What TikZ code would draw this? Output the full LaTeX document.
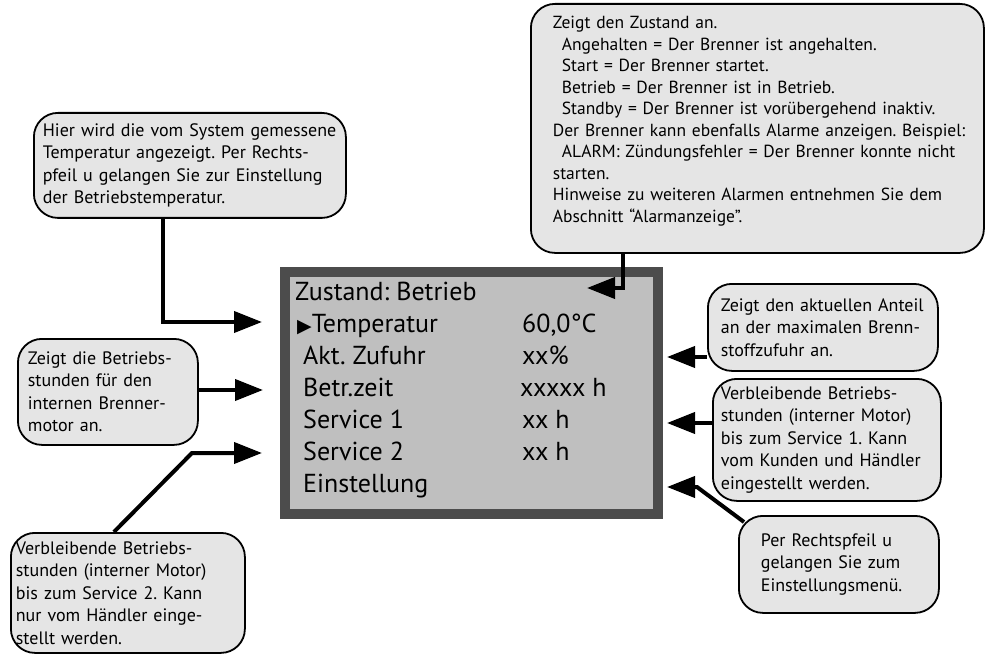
\documentclass[tikz,border=0pt]{standalone}
\usepackage{fontspec}
\setmainfont{PT Sans}
\newfontfamily\symfont{DejaVu Sans}
\usetikzlibrary{arrows.meta}
\frenchspacing

\definecolor{notefill}{gray}{0.9}
\definecolor{lcdfill}{gray}{0.75}
\definecolor{lcdframe}{gray}{0.3}

\begin{document}
\begin{tikzpicture}[x=1pt, y=-1pt,
    note/.style={draw, line width=1.8pt, rounded corners=24pt, fill=notefill, anchor=north west,
                 align=left, inner ysep=0pt, font=\fontsize{18}{22.5}\selectfont},
    lcdtext/.style={anchor=base west, inner sep=0pt, font=\fontsize{26}{30}\selectfont},
    pointer/.style={line width=4pt, -{Triangle[length=28pt,width=21pt]}}]

    \useasboundingbox (0,0) rectangle (985,655);

    \node[draw=lcdframe, line width=10pt, fill=lcdfill, anchor=north west, inner sep=0pt,
          minimum width=373pt, minimum height=242pt] (lcd) at (280,267) {};

    \node[lcdtext] (rState) at (295,300) {Zustand: Betrieb};
    \node[lcdtext] (rTemp)  at (297,332) {{\symfont\fontsize{19}{19}\selectfont ▶}Temperatur};
    \node[lcdtext] (rFeed)  at (303,364) {Akt. Zufuhr};
    \node[lcdtext] (rHours) at (303,396) {Betr.zeit};
    \node[lcdtext] (rSvc1)  at (303,428) {Service 1};
    \node[lcdtext] (rSvc2)  at (303,460) {Service 2};
    \node[lcdtext] (rSet)   at (303,492) {Einstellung};

    \node[lcdtext] (vTemp)  at (522,332) {60,0°C};
    \node[lcdtext] (vFeed)  at (522,364) {xx\%};
    \node[lcdtext] (vHours) at (520,396) {xxxxx h};
    \node[lcdtext] (vSvc1)  at (522,428) {xx h};
    \node[lcdtext] (vSvc2)  at (522,460) {xx h};

    \node[note, inner xsep=9pt, text width=294pt, minimum height=105pt] (tempnote) at (33,112)
        {Hier wird die vom System gemessene\\Temperatur angezeigt. Per Rechts-\\pfeil u gelangen Sie zur Einstellung\\der Betriebstemperatur.};
    \node[note, inner xsep=22pt, text width=409pt, minimum height=249pt,
          font=\fontsize{17.5}{21.5}\selectfont] (statenote) at (530,3)
        {Zeigt den Zustand an.\\
         \hspace*{9pt}Angehalten = Der Brenner ist angehalten.\\
         \hspace*{9pt}Start = Der Brenner startet.\\
         \hspace*{9pt}Betrieb = Der Brenner ist in Betrieb.\\
         \hspace*{9pt}Standby = Der Brenner ist vorübergehend inaktiv.\\
         \mbox{Der Brenner kann ebenfalls Alarme anzeigen. Beispiel:}\\
         \mbox{\hspace*{9pt}ALARM: Zündungsfehler = Der Brenner konnte nicht}\\
         starten.\\
         \mbox{Hinweise zu weiteren Alarmen entnehmen Sie dem}\\
         Abschnitt “Alarmanzeige”.\\[-3pt]\mbox{}};
    \node[note, inner xsep=13pt, text width=204pt, minimum height=87pt] (feednote) at (707,283)
        {Zeigt den aktuellen Anteil\\an der maximalen Brenn-\\stoffzufuhr an.};
    \node[note, inner xsep=8pt, text width=212pt, minimum height=122pt] (svc1note) at (712,378)
        {Verbleibende Betriebs-\\stunden (interner Motor)\\bis zum Service 1. Kann\\vom Kunden und Händler\\eingestellt werden.};
    \node[note, inner xsep=22pt, text width=156pt, minimum height=97pt] (setnote) at (738,515)
        {Per Rechtspfeil u\\gelangen Sie zum\\Einstellungsmenü.};
    \node[note, inner xsep=10pt, text width=160pt, minimum height=106pt] (hoursnote) at (17,338)
        {Zeigt die Betriebs-\\stunden für den\\internen Brenner-\\motor an.};
    \node[note, inner xsep=5pt, text width=224pt, minimum height=120pt] (svc2note) at (10,532)
        {Verbleibende Betriebs-\\stunden (interner Motor)\\bis zum Service 2. Kann\\nur vom Händler einge-\\stellt werden.};

    \coordinate (tipTemp)  at (262,322);
    \coordinate (tipState) at (587,288);
    \coordinate (tipFeed)  at (667,357);
    \coordinate (tipSvc1)  at (667,423);
    \coordinate (bendSet)  at (697,487);
    \coordinate (tipSet)   at (667,487);
    \coordinate (tipHours) at (263,390);
    \coordinate (bendSvc2) at (192,453);
    \coordinate (tipSvc2)  at (262,453);

    \draw[pointer] ([xshift=-27pt]tempnote.south) |- (tipTemp);
    \draw[pointer] ([xshift=-134.5pt]statenote.south) |- (tipState);
    \draw[pointer] (feednote.west |- tipFeed) -- (tipFeed);
    \draw[pointer] (svc1note.west |- tipSvc1) -- (tipSvc1);
    \draw[pointer] ([xshift=6pt,yshift=-7pt]setnote.north west) -- (bendSet) -- (tipSet);
    \draw[pointer] (hoursnote.east |- tipHours) -- (tipHours);
    \draw[pointer] ([xshift=-14pt]svc2note.north) -- (bendSvc2) -- (tipSvc2);
\end{tikzpicture}
\end{document}
